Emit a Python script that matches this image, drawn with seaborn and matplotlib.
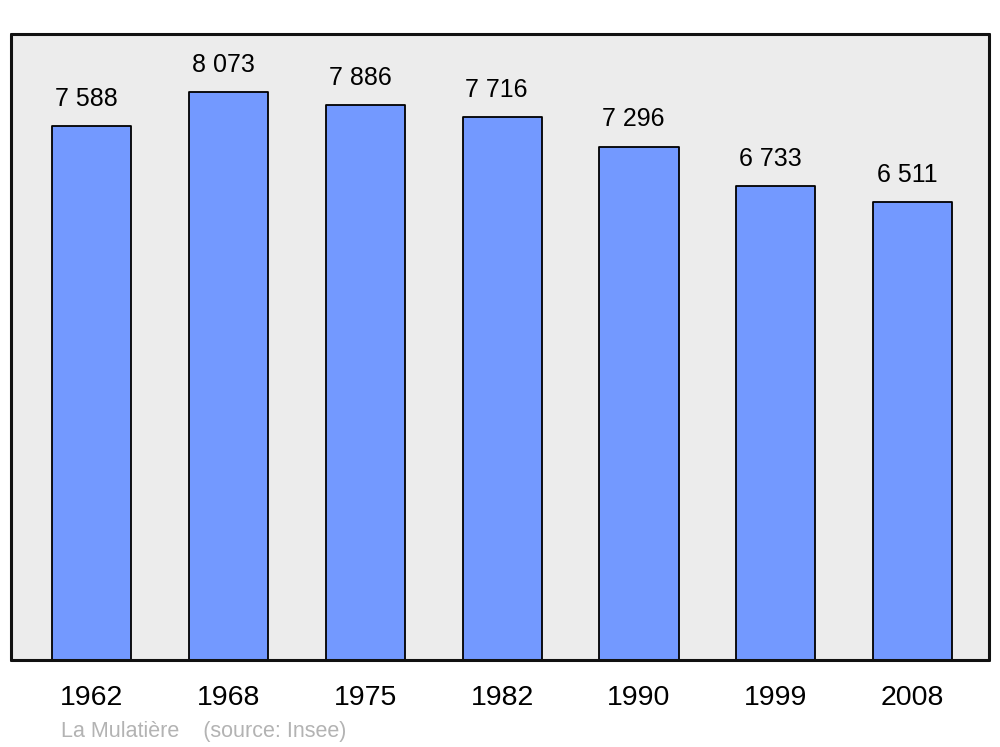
import matplotlib
matplotlib.use("Agg")
import matplotlib.pyplot as plt
import seaborn as sns
import pandas as pd

years = ["1962", "1968", "1975", "1982", "1990", "1999", "2008"]
population = [7588, 8073, 7886, 7716, 7296, 6733, 6511]
value_labels = ["7 588", "8 073", "7 886", "7 716", "7 296", "6 733", "6 511"]

df = pd.DataFrame({"year": years, "population": population})

sns.set_style("white")
plt.rcParams["font.family"] = ["Liberation Sans", "DejaVu Sans"]

fig = plt.figure(figsize=(10, 7.47), dpi=100)
ax = fig.add_axes([0.011, 0.1165, 0.978, 0.838])
ax.set_facecolor("#ececec")

sns.barplot(data=df, x="year", y="population", color="#7399ff", saturation=1,
            width=0.578, edgecolor="black", linewidth=1.3, ax=ax)
for p in ax.patches:
    p.set_joinstyle("round")

for i, (v, lab) in enumerate(zip(population, value_labels)):
    ax.annotate(lab, (i, v), xytext=(-4, 11), textcoords="offset points",
                ha="center", va="bottom", fontsize=18, color="black")

ax.set_xlim(-0.592, 6.559)
ax.set_ylim(0, 8897)
ax.set_yticks([])
ax.set_xlabel("")
ax.set_ylabel("")
ax.tick_params(axis="x", length=0, pad=18, labelsize=20.5, labelcolor="black")
for s in ax.spines.values():
    s.set_visible(True)
    s.set_linewidth(2.2)
    s.set_color("#111111")
    s.set_capstyle("round")

fig.text(0.061, 0.0135, "La Mulatière    (source: Insee)", fontsize=15.5,
         color="#b3b3b3", ha="left", va="baseline")

fig.savefig("out.png", dpi=100, facecolor="white")
